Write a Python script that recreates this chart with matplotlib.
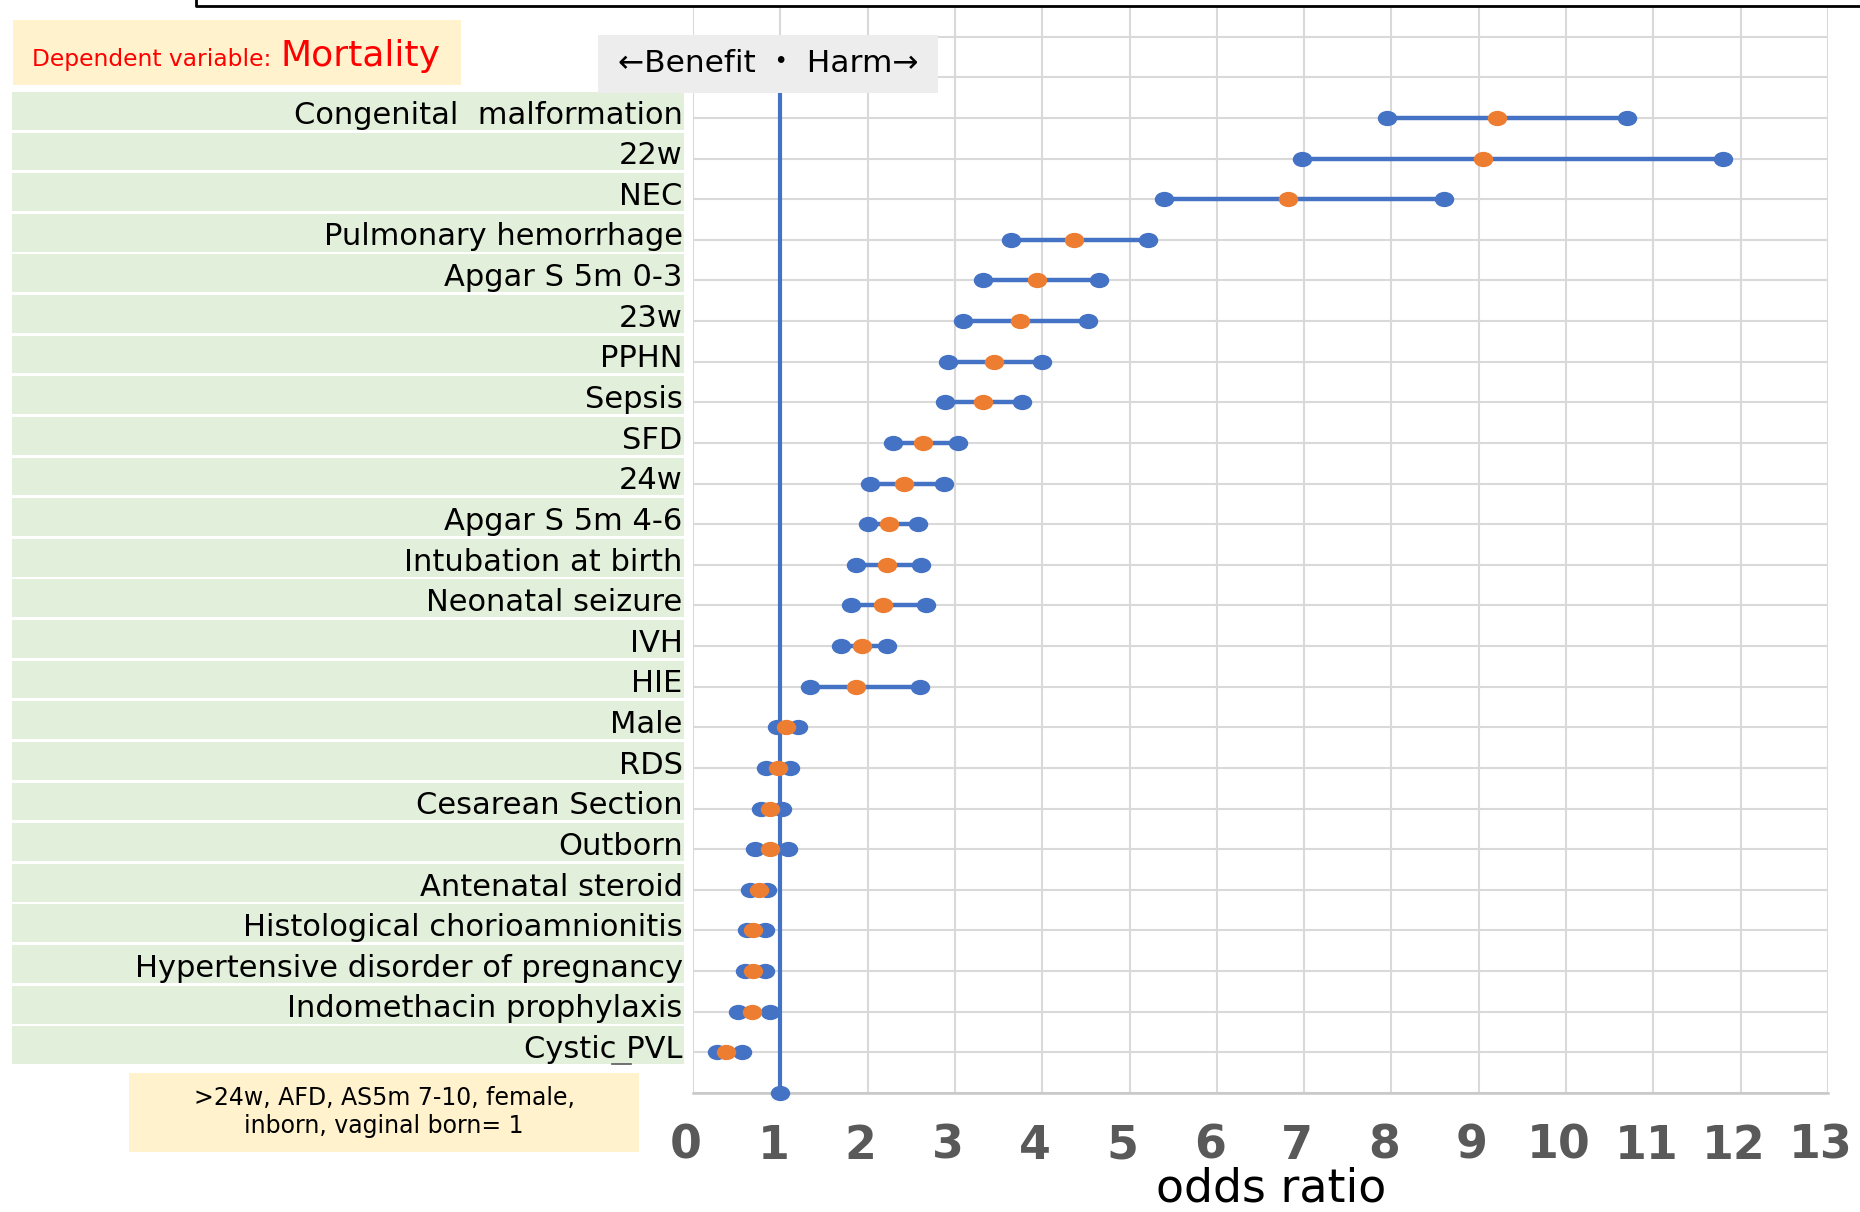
import numpy as np
import matplotlib
matplotlib.use("Agg")
import matplotlib.pyplot as plt
from matplotlib.patches import Rectangle
from matplotlib.lines import Line2D
from matplotlib.path import Path
from matplotlib.transforms import Affine2D, ScaledTranslation

# Risk factors for mortality, top to bottom
factors = ['Congenital  malformation', '22w', 'NEC', 'Pulmonary hemorrhage',
           'Apgar S 5m 0-3', '23w', 'PPHN', 'Sepsis', 'SFD', '24w',
           'Apgar S 5m 4-6', 'Intubation at birth', 'Neonatal seizure', 'IVH',
           'HIE', 'Male', 'RDS', 'Cesarean Section', 'Outborn',
           'Antenatal steroid', 'Histological chorioamnionitis',
           'Hypertensive disorder of pregnancy', 'Indomethacin prophylaxis',
           'Cystic PVL']
odds_ratio = [9.21, 9.05, 6.82, 4.36, 3.94, 3.75, 3.45, 3.32, 2.64, 2.42,
              2.25, 2.22, 2.18, 1.93, 1.87, 1.07, 0.97, 0.88, 0.88, 0.76,
              0.69, 0.69, 0.68, 0.38]
ci_low = [7.95, 6.97, 5.39, 3.64, 3.32, 3.09, 2.92, 2.89, 2.29, 2.03,
          2.00, 1.87, 1.81, 1.70, 1.34, 0.96, 0.84, 0.78, 0.71, 0.65,
          0.62, 0.59, 0.52, 0.28]
ci_high = [10.70, 11.80, 8.60, 5.21, 4.65, 4.52, 4.00, 3.77, 3.03, 2.87,
           2.58, 2.61, 2.67, 2.22, 2.60, 1.20, 1.11, 1.02, 1.09, 0.85,
           0.82, 0.82, 0.88, 0.56]
x_ticks = list(range(0, 14))

BLUE = '#4472C4'
ORANGE = '#ED7D31'
GRID = '#D9D9D9'
GREEN = '#E2EFDA'
CREAM = '#FFF2CC'

W, H = 1860, 1212


def fx(px):
    return px / W


def fy(py):
    return 1 - py / H


# squashed ellipse marker, wider than tall
ellipse = Affine2D().scale(1.3, 1.0).transform_path(Path.unit_circle())

fig = plt.figure(figsize=(W / 100, H / 100), dpi=100)

ax_bottom, ax_top = 1093, 7
ymax = 26.73
ax = fig.add_axes([fx(693), fy(ax_bottom), fx(1828) - fx(693), (ax_bottom - ax_top) / H])
ax.set_xlim(0, 13)
ax.set_ylim(0, ymax)
ax.set_xticks(x_ticks)
ax.set_xticklabels([str(t) for t in x_ticks], fontsize=33, fontweight='bold', color='#595959')
ax.set_yticks(range(0, 27))
ax.set_yticklabels([])
ax.tick_params(length=0, pad=22)
# tick numbers sit a little left of their gridlines
shift = ScaledTranslation(-7 / 100, 0, fig.dpi_scale_trans)
for lbl in ax.get_xticklabels():
    lbl.set_transform(lbl.get_transform() + shift)
ax.grid(True, color=GRID, lw=1.5, zorder=0)
ax.set_axisbelow(True)
for side in ['top', 'left', 'right']:
    ax.spines[side].set_visible(False)
ax.spines['bottom'].set_color('#C8C8C8')
ax.spines['bottom'].set_linewidth(1.8)

n = len(factors)
rows = np.arange(n, 0, -1)

# reference line at OR = 1
ax.plot([1, 1], [0, 25], color=BLUE, lw=3, marker=ellipse, ms=13,
        clip_on=False, zorder=3)

for y, lo, hi, orv in zip(rows, ci_low, ci_high, odds_ratio):
    ax.plot([lo, hi], [y, y], color=BLUE, lw=3.2, solid_capstyle='butt', zorder=3)
    ax.plot([lo, hi], [y, y], ls='none', marker=ellipse, ms=13, color=BLUE, zorder=4)
    ax.plot([orv], [y], ls='none', marker=ellipse, ms=13, color=ORANGE, zorder=5)

# label panel
lab = fig.add_axes([fx(12), fy(ax_bottom), fx(684) - fx(12), (ax_bottom - ax_top) / H])
lab.set_xlim(0, 1)
lab.set_ylim(0, ymax)
lab.axis('off')
for y, name in zip(rows, factors):
    lab.add_patch(Rectangle((0, y - 0.29), 1, 0.93, color=GREEN, lw=0))
    lab.text(0.998, y - 0.14, name, ha='right', va='baseline', fontsize=22, color='black')

fig.add_artist(Line2D([fx(612), fx(631)], [fy(1064), fy(1064)], color='#595959', lw=1.2))

# x-axis title
fig.text(fx(1271), fy(1211), 'odds ratio', ha='center', va='bottom', fontsize=33)

# dependent variable box
fig.add_artist(Rectangle((fx(13), fy(85)), fx(461) - fx(13), (85 - 20) / H,
                         transform=fig.transFigure, color=CREAM, lw=0, zorder=1))
fig.text(fx(32), fy(66), 'Dependent variable: ', color='red', fontsize=16.8,
         ha='left', va='baseline', zorder=2)
fig.text(fx(281), fy(66), 'Mortality', color='red', fontsize=26,
         ha='left', va='baseline', zorder=2)

# benefit / harm box over the plot
fig.add_artist(Rectangle((fx(598), fy(93)), fx(938) - fx(598), (93 - 35) / H,
                         transform=fig.transFigure, color='#EDEDED', lw=0, zorder=5))
fig.text(fx(768), fy(64), '←Benefit ・ Harm→', fontsize=22.5, ha='center', va='center',
         family=['DejaVu Sans', 'Noto Sans CJK JP'], zorder=6)

# reference-category note
fig.add_artist(Rectangle((fx(129), fy(1152)), fx(639) - fx(129), (1152 - 1073) / H,
                         transform=fig.transFigure, color=CREAM, lw=0, zorder=1))
fig.text(fx(384), fy(1112), '>24w, AFD, AS5m 7-10, female,\ninborn, vaginal born= 1',
         fontsize=17, ha='center', va='center', linespacing=1.2, zorder=2)

# frame edge across the top
fig.add_artist(Line2D([fx(196), fx(196), fx(1860)], [fy(0), fy(6), fy(6)],
                      color='black', lw=2))

fig.savefig('out.png', dpi=100)
